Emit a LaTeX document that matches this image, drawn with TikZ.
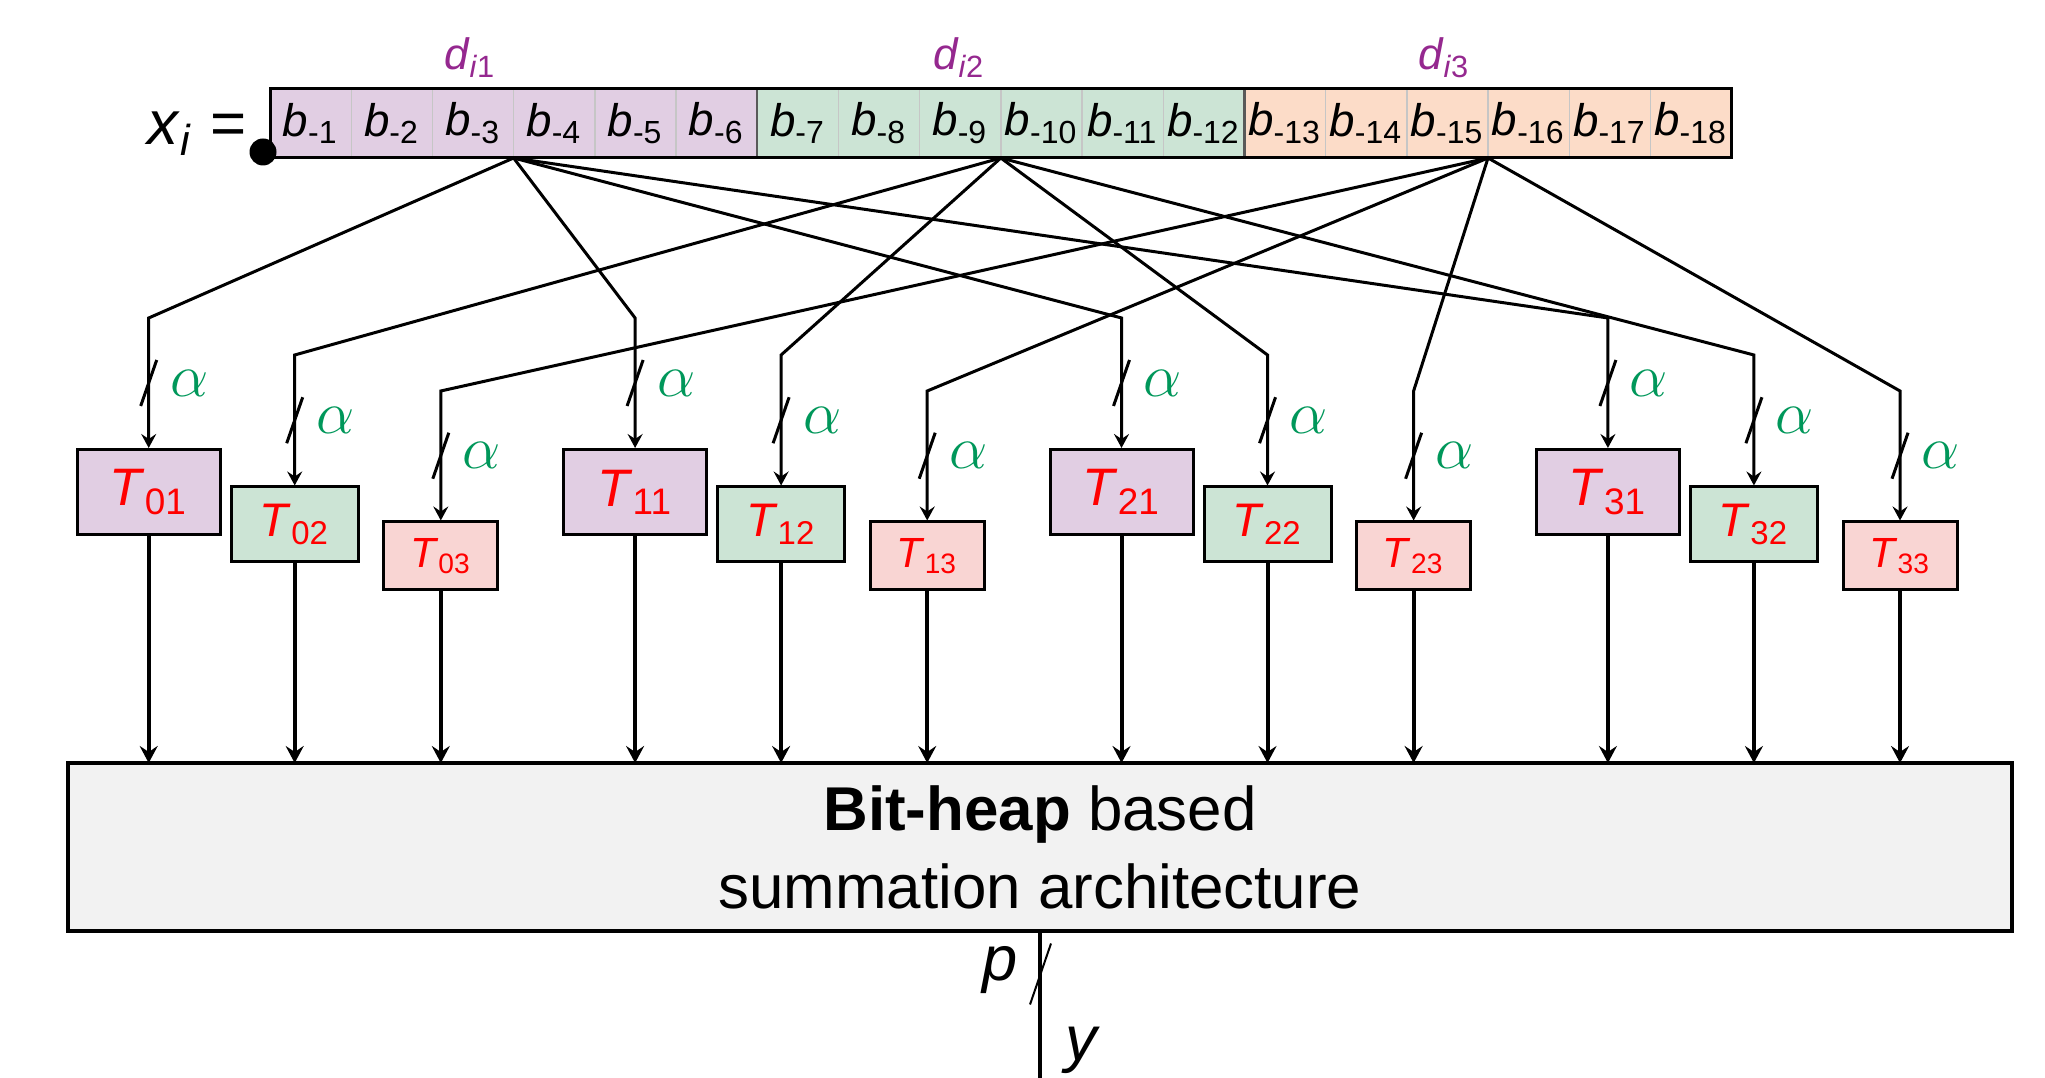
\documentclass[tikz,border=0pt]{standalone}
\usepackage{fontspec}
\setmainfont{Liberation Sans}
\usetikzlibrary{arrows.meta}

\definecolor{lilac}{HTML}{E1CEE3}
\definecolor{mint}{HTML}{CCE4D5}
\definecolor{peach}{HTML}{FCDCC8}
\definecolor{rose}{HTML}{F9D5D3}
\definecolor{plum}{HTML}{95288F}
\definecolor{leaf}{HTML}{00975A}
\definecolor{heapgray}{HTML}{F2F2F2}

% bit and table labels
\newcommand{\bitlbl}[1]{\textit{b}\textsubscript{-#1}}
\newcommand{\tablbl}[1]{\textit{T}\textsubscript{#1}}

\begin{document}
\begin{tikzpicture}[
    cell/.style={draw=gray!45, minimum width=0.812cm, minimum height=0.69cm, inner sep=0pt, outer sep=0pt, font=\fontsize{13}{14}\selectfont},
    tbox/.style={draw, line width=0.03cm, inner sep=0pt, text=red},
    tone/.style={tbox, fill=lilac, minimum width=1.43cm, minimum height=0.85cm, font=\fontsize{15}{16}\selectfont},
    ttwo/.style={tbox, fill=mint, minimum width=1.27cm, minimum height=0.75cm, font=\fontsize{13.4}{14}\selectfont},
    tthree/.style={tbox, fill=rose, minimum width=1.14cm, minimum height=0.68cm, font=\fontsize{12}{13}\selectfont},
    wire/.style={line width=0.03cm, -{Stealth[length=0.14cm, width=0.15cm, inset=0.05cm]}},
    feed/.style={line width=0.04cm, -{Stealth[length=0.17cm, width=0.18cm, inset=0.06cm]}},
    width/.style={text=leaf, font=\fontsize{16}{16}\selectfont, inner sep=0pt},
    digit/.style={text=plum, font=\fontsize{12.5}{13}\selectfont, anchor=base},
  ]
  \useasboundingbox (0,0) rectangle (20.45,-10.78);

  % the input word, three digits of six bits
  \foreach \i in {1,...,6}
    \node[cell, fill=lilac] (b\i) at ({2.294+0.812*\i},-1.235) {\bitlbl{\i}};
  \foreach \i in {7,...,12}
    \node[cell, fill=mint] (b\i) at ({2.294+0.812*\i},-1.235) {\bitlbl{\i}};
  \foreach \i in {13,...,18}
    \node[cell, fill=peach] (b\i) at ({2.294+0.812*\i},-1.235) {\bitlbl{\i}};
  \draw[gray!70!black, line width=0.025cm] (b6.north east) -- (b6.south east);
  \draw[gray!70!black, line width=0.025cm] (b12.north east) -- (b12.south east);
  \draw[line width=0.03cm] (b1.north west) rectangle (b18.south east);

  \node[anchor=base east, font=\fontsize{17.6}{18}\selectfont, inner sep=0pt] (x) at (2.47,-1.45) {\textit{x}\textsubscript{\textit{i}} =};
  \node[circle, fill, inner sep=0pt, minimum size=0.27cm] (dot) at (2.63,-1.52) {};

  \node[digit] (d1) at (4.70,-0.70) {\textit{d}\textsubscript{\textit{i}1}};
  \node[digit] (d2) at (9.59,-0.70) {\textit{d}\textsubscript{\textit{i}2}};
  \node[digit] (d3) at (14.44,-0.70) {\textit{d}\textsubscript{\textit{i}3}};

  % tables
  \node[tone]   (t01) at (1.487,-4.92)  {\tablbl{01}};
  \node[ttwo]   (t02) at (2.947,-5.245) {\tablbl{02}};
  \node[tthree] (t03) at (4.408,-5.56)  {\tablbl{03}};
  \node[tone]   (t11) at (6.351,-4.92)  {\tablbl{11}};
  \node[ttwo]   (t12) at (7.811,-5.245) {\tablbl{12}};
  \node[tthree] (t13) at (9.272,-5.56)  {\tablbl{13}};
  \node[tone]   (t21) at (11.215,-4.92) {\tablbl{21}};
  \node[ttwo]   (t22) at (12.675,-5.245) {\tablbl{22}};
  \node[tthree] (t23) at (14.136,-5.56) {\tablbl{23}};
  \node[tone]   (t31) at (16.079,-4.92) {\tablbl{31}};
  \node[ttwo]   (t32) at (17.539,-5.245) {\tablbl{32}};
  \node[tthree] (t33) at (19.0,-5.56)   {\tablbl{33}};

  \coordinate (lvl1) at (0,-3.18);
  \coordinate (lvl2) at (0,-3.55);
  \coordinate (lvl3) at (0,-3.91);

  % each digit feeds one table of every row
  \foreach \f/\t/\l in {3/01/1, 3/11/1, 3/21/1, 3/31/1,
                        9/02/2, 9/12/2, 9/22/2, 9/32/2,
                        15/03/3, 15/13/3, 15/23/3, 15/33/3}
    \draw[wire] (b\f.south east) -- (t\t.north |- lvl\l) -- coordinate (m\t) (t\t.north);

  \foreach \t in {01,02,03,11,12,13,21,22,23,31,32,33} {
    \draw[line width=0.03cm] (m\t) +(-0.08,-0.23) -- +(0.08,0.23);
    \node[width] (a\t) at ([xshift=0.41cm]m\t) {$\alpha$};
    \draw[feed] (t\t) -- (t\t |- 0,-7.63);
  }

  \node[draw, line width=0.04cm, fill=heapgray, minimum width=19.44cm, minimum height=1.68cm, align=center, font=\fontsize{17.6}{22.2}\selectfont] (sum) at (10.40,-8.47) {\textbf{Bit-heap} based\\summation architecture};

  % output
  \coordinate (out) at (10.40,-10.78);
  \draw[line width=0.04cm] (sum.south) -- (out);
  \draw[line width=0.02cm] (10.40,-9.735) +(-0.10,-0.31) -- +(0.11,0.30);
  \node[font=\fontsize{18}{18}\selectfont] (p) at (10.00,-9.70) {\textit{p}};
  \node[font=\fontsize{18}{18}\selectfont] (y) at (10.83,-10.50) {\textit{y}};
\end{tikzpicture}
\end{document}
